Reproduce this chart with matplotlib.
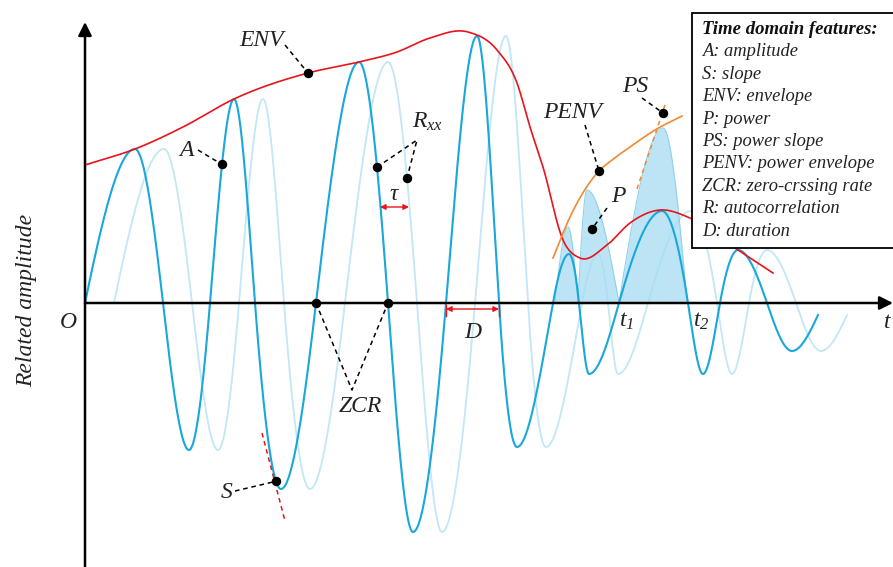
import numpy as np
import matplotlib
matplotlib.use("Agg")
import matplotlib.pyplot as plt
from matplotlib.patches import Rectangle

plt.rcParams['font.family'] = ['Liberation Serif', 'DejaVu Serif']
plt.rcParams['mathtext.fontset'] = 'custom'
plt.rcParams['mathtext.it'] = 'Liberation Serif:italic'
plt.rcParams['mathtext.rm'] = 'Liberation Serif:italic'

# ---------------- data (time from origin O, related amplitude) ----------------
# key points of the signal: zero crossings and extrema
wave_t = [0, 50, 78, 104, 125, 149, 170, 196, 231, 274, 303, 328, 361, 392, 414,
          432, 468, 484, 494, 504, 534, 577, 603, 618, 635, 653, 682, 707, 733]
wave_a = [0, 154, 0, -147, 0, 204, 0, -186, 0, 241, 0, -229, 0, 267, 0,
          -144, 0, 49, 0, -71, 0, 92, 0, -71, 0, 53, 0, -48, -12]
tau = 29  # lag of the shifted copy

# envelope (ENV)
env_t = [0, 50, 98, 149, 223, 274, 312, 345, 383, 412, 432, 445, 458, 478, 495,
         522, 545, 575, 605, 653, 688]
env_a = [138, 154, 176, 204, 230, 241, 251, 265, 271, 253, 220, 176, 136, 63, 45,
         58, 80, 93, 85, 53, 30]

# power envelope (PENV)
penv_t = [468, 485, 514, 527, 545, 570, 597]
penv_a = [45, 86, 132, 143, 156, 173, 187]

# power (P): humps  (start, peak, end) between the first rise and t2
power_t = [470, 483, 493, 502, 534, 578, 602]
power_a = [0, 76, 0, 113, 0, 175, 0]

# ---------------- helpers ----------------
def hermite(t, a, m, n=40):
    t = np.asarray(t, float); a = np.asarray(a, float)
    xs, ys = [], []
    for i in range(len(t) - 1):
        h = t[i + 1] - t[i]
        s = np.linspace(0, 1, n, endpoint=(i == len(t) - 2))
        h00 = 2 * s**3 - 3 * s**2 + 1
        h10 = s**3 - 2 * s**2 + s
        h01 = -2 * s**3 + 3 * s**2
        h11 = s**3 - s**2
        xs.append(t[i] + s * h)
        ys.append(h00 * a[i] + h10 * h * m[i] + h01 * a[i + 1] + h11 * h * m[i + 1])
    return np.concatenate(xs), np.concatenate(ys)

def wave_slopes(t, a):
    t = np.asarray(t, float); a = np.asarray(a, float)
    n = len(t); m = np.zeros(n)
    for i in range(n):
        if a[i] == 0 or i == n - 1:
            parts = []
            if i > 0:
                parts.append(np.pi / 2 * (a[i] - a[i - 1]) / (t[i] - t[i - 1]))
            if i < n - 1:
                parts.append(np.pi / 2 * (a[i + 1] - a[i]) / (t[i + 1] - t[i]))
            m[i] = np.mean(parts)
    return m

def smooth_slopes(t, a):
    t = np.asarray(t, float); a = np.asarray(a, float)
    return np.gradient(a, t)

wx, wy = hermite(wave_t, wave_a, wave_slopes(wave_t, wave_a))
lx, ly = wx + tau, wy
ex, ey = hermite(env_t, env_a, smooth_slopes(env_t, env_a))
px_, py_ = hermite(penv_t, penv_a, smooth_slopes(penv_t, penv_a))

humps = []
for k in range(0, len(power_t) - 2, 2):
    ht, ha = power_t[k:k + 3], power_a[k:k + 3]
    humps.append(hermite(ht, ha, wave_slopes(ht, ha)))

# ---------------- figure ----------------
fig = plt.figure(figsize=(8.93, 5.67), dpi=100)
ax = fig.add_axes([0, 0, 1, 1])
ax.set_xlim(-85, 808)
ax.set_ylim(-264, 303)
ax.axis('off')

DARK = '#1aa7dc'
LIGHT = '#c2e7f6'
RED = '#e8141c'
ORANGE = '#ef8a2e'

ax.plot(lx, ly, color=LIGHT, lw=1.3, zorder=2)
for hx, hy in humps:
    ax.fill_between(hx, hy, 0, color='#a6dbf2', alpha=0.75, lw=0, zorder=3)
    ax.plot(hx, hy, color='#8fd1ee', lw=0.8, zorder=3)
ax.plot(wx, wy, color=DARK, lw=1.5, zorder=4)
ax.plot(ex, ey, color=RED, lw=1.2, zorder=5)
ax.plot(px_, py_, color=ORANGE, lw=1.2, zorder=5)

# axes arrows
ax.annotate('', xy=(808, 0), xytext=(0, 0),
            arrowprops=dict(arrowstyle='-|>', lw=1.8, color='k', mutation_scale=20,
                            shrinkA=0, shrinkB=0), zorder=6)
ax.annotate('', xy=(0, 281), xytext=(0, -270),
            arrowprops=dict(arrowstyle='-|>', lw=1.8, color='k', mutation_scale=20,
                            shrinkA=0, shrinkB=0), zorder=6)

dash = dict(color='k', lw=1.1, ls=(0, (3, 2.5)), zorder=7)
def dot(x, y):
    ax.plot([x], [y], 'o', color='k', ms=5.8, zorder=8)

TXT = dict(fontsize=17, style='italic', color='#222222', zorder=9)

def on(x, cx, cy):
    return float(np.interp(x, cx, cy))

# ENV
d = (223, on(223, ex, ey)); dot(*d)
ax.plot([200, d[0]], [258, d[1]], **dash)
ax.text(177, 263, 'ENV', ha='center', va='center', **TXT)

# A
d = (137, on(137, wx, wy)); dot(*d)
ax.plot([113, d[0]], [153, d[1]], **dash)
ax.text(101, 153, 'A', ha='center', va='center', **TXT)

# Rxx
d1 = (292, on(292, wx, wy)); d2 = (322, on(322, lx, ly))
dot(*d1); dot(*d2)
ax.plot([d1[0], 332, d2[0]], [d1[1], 163, d2[1]], **dash)
ax.text(327, 181, r'$R_{xx}$', ha='left', va='center', **TXT)
ax.annotate('', xy=(292 + 3 + tau, 96), xytext=(292 + 3, 96),
            arrowprops=dict(arrowstyle='<|-|>', lw=1.0, color=RED, mutation_scale=8,
                            shrinkA=0, shrinkB=0), zorder=7)
ax.text(309, 108, 'τ', ha='center', va='center', **TXT)

# ZCR
z1, z2 = 231, 303
dot(z1, 0); dot(z2, 0)
ax.plot([z1, 267, z2], [0, -87, 0], **dash)
ax.text(275, -104, 'ZCR', ha='center', va='center', **TXT)

# S
d = (191, on(191, wx, wy)); dot(*d)
ax.plot([150, d[0]], [-188, d[1]], **dash)
ax.plot([177, 200], [-130, -218], color=RED, lw=1.1, ls=(0, (3, 2.5)), zorder=6)
ax.text(142, -189, 'S', ha='center', va='center', **TXT)

# D
ax.annotate('', xy=(414, -6), xytext=(361, -6),
            arrowprops=dict(arrowstyle='<|-|>', lw=1.0, color=RED, mutation_scale=8,
                            shrinkA=0, shrinkB=0), zorder=7)
ax.plot([361, 361], [-2, -13], color=RED, lw=1.0, zorder=7)
ax.plot([414, 414], [-2, -13], color=RED, lw=1.0, zorder=7)
ax.text(388, -30, 'D', ha='center', va='center', **TXT)

# PENV
d = (514, on(514, px_, py_)); dot(*d)
ax.plot([500, d[0]], [178, d[1]], **dash)
ax.text(488, 190, 'PENV', ha='center', va='center', **TXT)

# P
dot(507, 74)
ax.plot([522, 507], [95, 74], **dash)
ax.text(533, 106, 'P', ha='center', va='center', **TXT)

# PS
ax.plot([552, 581], [114, 201], color=ORANGE, lw=1.1, ls=(0, (3, 2.5)), zorder=6)
dot(578, 190)
ax.plot([557, 578], [205, 190], **dash)
ax.text(550, 216, 'PS', ha='center', va='center', **TXT)

# axis labels
ax.text(-17, -19, 'O', ha='center', va='center', **TXT)
ax.text(542, -18, r'$t_1$', ha='center', va='center', **TXT)
ax.text(616, -18, r'$t_2$', ha='center', va='center', **TXT)
ax.text(799, -20, 't', ha='left', va='center', **TXT)
ax.text(-58, 3, 'Related amplitude', ha='center', va='center', rotation=90, **TXT)

# legend box
ax.add_patch(Rectangle((607, 55), 320, 235, facecolor='white', edgecolor='k',
                       lw=1.3, zorder=10, clip_on=False))
legend_lines = ['A: amplitude', 'S: slope', 'ENV: envelope', 'P: power',
                'PS: power slope', 'PENV: power envelope', 'ZCR: zero-crssing rate',
                'R: autocorrelation', 'D: duration']
ax.text(617, 274, 'Time domain features:', ha='left', va='center', fontsize=13.5,
        style='italic', weight='bold', color='#111111', zorder=11)
for i, s in enumerate(legend_lines):
    ax.text(617, 251 - 22.4 * i, s, ha='left', va='center', fontsize=13.3,
            style='italic', color='#222222', zorder=11)

fig.savefig('out.png', dpi=100)
